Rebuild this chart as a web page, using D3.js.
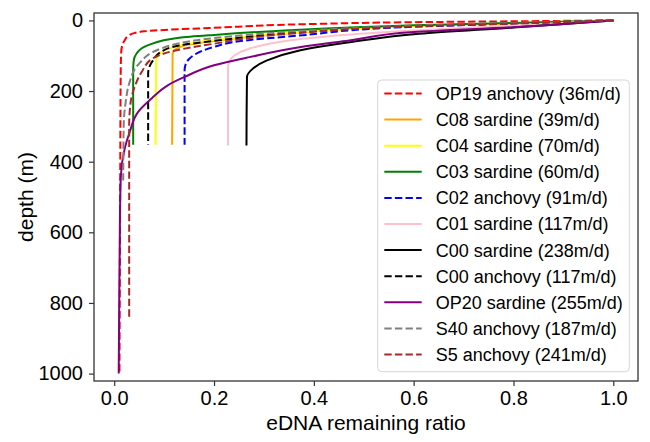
<!DOCTYPE html>
<html>
<head>
<meta charset="utf-8">
<script src="https://cdn.jsdelivr.net/npm/d3@7"></script>
<style>
  body { margin: 0; background: #fff; }
  text { font-family: "Liberation Sans", Arial, sans-serif; fill: #000; }
</style>
</head>
<body>
<div id="chart"></div>
<script>
// series labels, in drawing / legend order
const labels = [
  'OP19 anchovy (36m/d)', 'C08 sardine (39m/d)', 'C04 sardine (70m/d)',
  'C03 sardine (60m/d)', 'C02 anchovy (91m/d)', 'C01 sardine (117m/d)',
  'C00 sardine (238m/d)', 'C00 anchovy (117m/d)', 'OP20 sardine (255m/d)',
  'S40 anchovy (187m/d)', 'S5 anchovy (241m/d)'
];

// each series: [eDNA remaining ratio, depth m]
const op19a = [[1,0],[0.8,2.5],[0.6,5],[0.4,10],[0.2,21],[0.1,27],[0.06,31],[0.04,36],[0.028,44],[0.021,56],[0.016,72],[0.014,90],[0.013,150],[0.012,450],[0.0105,1000]];
const c08s = [[1,0],[0.8,8],[0.6,16],[0.35,36],[0.2,58],[0.15,68],[0.125,80],[0.117,95],[0.116,352]];
const c04s = [[1,0],[0.8,8],[0.6,16],[0.35,35],[0.2,56],[0.171,61],[0.14,68],[0.1,85],[0.088,100],[0.084,115],[0.083,352]];
const c03s = [[1,0],[0.8,7],[0.6,14],[0.35,28],[0.2,41],[0.13,49],[0.068,70],[0.045,93],[0.039,115],[0.038,140],[0.038,352]];
const c02a = [[1,0],[0.8,9],[0.6,18],[0.37,43],[0.25,59],[0.2,75],[0.175,87],[0.151,108],[0.143,125],[0.141,140],[0.141,352]];
const c01s = [[1,0],[0.8,14],[0.571,31],[0.43,45],[0.33,61],[0.27,80],[0.24,100],[0.23,120],[0.228,135],[0.228,354]];
const c00s = [[1,0],[0.8,20],[0.611,38],[0.471,62],[0.371,85],[0.305,114],[0.275,140],[0.266,160],[0.265,354]];
const c00a = [[1,0],[0.8,8],[0.6,16],[0.35,36],[0.2,58],[0.13,71],[0.095,88],[0.078,113],[0.07,133],[0.068,150],[0.068,352]];
const op20s = [[1,0],[0.8,19],[0.6,33],[0.471,57],[0.371,76],[0.271,104],[0.2,127],[0.141,160],[0.108,183],[0.075,221],[0.048,259],[0.031,316],[0.021,363],[0.0134,439],[0.012,510],[0.011,650],[0.010,800],[0.009,1000]];
const s40a = [[1,0],[0.8,7],[0.6,15],[0.35,32],[0.2,50],[0.095,79],[0.047,127],[0.031,174],[0.023,231],[0.019,297],[0.018,453]];
const s5a = [[1,0],[0.8,9],[0.6,17],[0.35,38],[0.2,66],[0.12,86],[0.078,107],[0.055,146],[0.041,188],[0.033,231],[0.030,297],[0.030,844]];

const seriesData = [op19a, c08s, c04s, c03s, c02a, c01s, c00s, c00a, op20s, s40a, s5a];

const xTicks = [0, 0.2, 0.4, 0.6, 0.8, 1.0];
const yTicks = [0, 200, 400, 600, 800, 1000];

// styles
const colors = ['red', 'orange', 'yellow', 'green', 'blue', 'pink', 'black', 'black', 'purple', 'gray', 'brown'];
const dashed = [true, false, false, false, true, false, false, true, false, true, true];

const W = 650, H = 442;
const m = { left: 94, right: 12, top: 13, bottom: 61 };

const svg = d3.select('#chart').append('svg')
  .attr('width', W)
  .attr('height', H);

const x = d3.scaleLinear()
  .domain([-0.0405, 1.0495])
  .range([m.left, W - m.right]);

const y = d3.scaleLinear()
  .domain([-21, 1021])
  .range([m.top, H - m.bottom]);

const line = d3.line()
  .x(d => x(d[0]))
  .y(d => y(d[1]))
  .curve(d3.curveMonotoneY);

const plot = svg.append('g');
plot.append('clipPath').attr('id', 'clip')
  .append('rect')
  .attr('x', m.left).attr('y', m.top)
  .attr('width', W - m.left - m.right)
  .attr('height', H - m.top - m.bottom);

plot.append('g').attr('clip-path', 'url(#clip)')
  .selectAll('path')
  .data(seriesData)
  .join('path')
  .attr('d', line)
  .attr('fill', 'none')
  .attr('stroke', (d, i) => colors[i])
  .attr('stroke-width', 2)
  .attr('stroke-dasharray', (d, i) => dashed[i] ? '7.4,3.2' : null);

// axes
const xAxis = svg.append('g')
  .attr('transform', `translate(0,${H - m.bottom})`)
  .call(d3.axisBottom(x).tickValues(xTicks).tickFormat(d3.format('.1f')).tickSize(5).tickPadding(5));

const yAxis = svg.append('g')
  .attr('transform', `translate(${m.left},0)`)
  .call(d3.axisLeft(y).tickValues(yTicks).tickFormat(d3.format('d')).tickSize(5).tickPadding(6));

[xAxis, yAxis].forEach(a => {
  a.select('.domain').remove();
  a.selectAll('line').attr('stroke', '#333').attr('stroke-width', 1.2);
  a.selectAll('text')
    .style('font-family', '"Liberation Sans", Arial, sans-serif')
    .style('font-size', '20px')
    .attr('fill', '#000');
});

// frame
svg.append('rect')
  .attr('x', m.left).attr('y', m.top)
  .attr('width', W - m.left - m.right)
  .attr('height', H - m.top - m.bottom)
  .attr('fill', 'none')
  .attr('stroke', '#333')
  .attr('stroke-width', 1.3);

svg.append('text')
  .attr('x', (m.left + W - m.right) / 2)
  .attr('y', 430)
  .attr('text-anchor', 'middle')
  .style('font-size', '21px')
  .text('eDNA remaining ratio');

svg.append('text')
  .attr('transform', `translate(33,${(m.top + H - m.bottom) / 2}) rotate(-90)`)
  .attr('text-anchor', 'middle')
  .style('font-size', '21px')
  .text('depth (m)');

// legend
const lg = svg.append('g');
lg.append('rect')
  .attr('x', 377.7).attr('y', 80)
  .attr('width', 251.6).attr('height', 291.7)
  .attr('rx', 4)
  .attr('fill', 'rgba(255,255,255,0.85)')
  .attr('stroke', '#d5d5d5')
  .attr('stroke-width', 1);

const rows = lg.selectAll('g.row')
  .data(labels)
  .join('g')
  .attr('class', 'row')
  .attr('transform', (d, i) => `translate(0,${93.5 + 26.1 * i})`);

rows.append('line')
  .attr('x1', 384.3).attr('x2', 421.7)
  .attr('stroke', (d, i) => colors[i])
  .attr('stroke-width', 2)
  .attr('stroke-dasharray', (d, i) => dashed[i] ? '7.4,3.2' : null);

rows.append('text')
  .attr('x', 435.7)
  .attr('dy', '0.36em')
  .style('font-size', '18px')
  .text(d => d);
</script>
</body>
</html>
